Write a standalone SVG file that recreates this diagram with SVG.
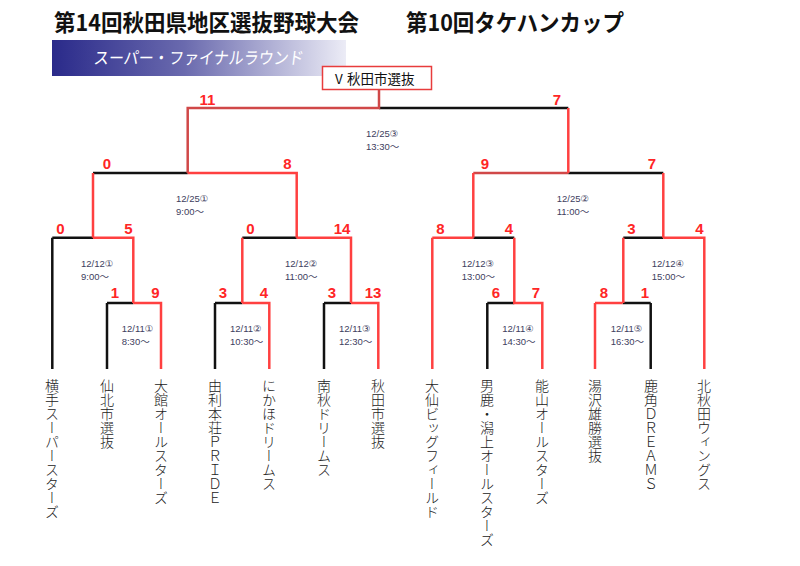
<svg xmlns="http://www.w3.org/2000/svg" width="800" height="566" viewBox="0 0 800 566">
<defs>
<linearGradient id="bn" x1="0" y1="0" x2="1" y2="0">
<stop offset="0" stop-color="#2a2a8a"/>
<stop offset="0.45" stop-color="#6a6aae"/>
<stop offset="1" stop-color="#ececf6"/>
</linearGradient>
<style>
.k{stroke:#111;stroke-width:2.5;fill:none}
.r{stroke:#ff4040;stroke-width:2.5;fill:none}
.rd{stroke:#d04848;stroke-width:2.5;fill:none}
.sc{font-family:"Liberation Sans",Arial,sans-serif;font-weight:bold;font-size:15px;fill:#ff2626;text-anchor:middle}
.dt{font-family:"Liberation Sans","DejaVu Sans","Noto Sans CJK JP",sans-serif;font-size:9.5px;fill:#40405e}
.tm{font-family:"Noto Sans CJK JP",sans-serif;font-size:14px;font-weight:300;fill:#222;writing-mode:vertical-rl}
.ti{font-family:"Noto Sans CJK JP",sans-serif;font-weight:bold;font-size:23px;fill:#111}
</style>
</defs>
<rect width="800" height="566" fill="#fff"/>
<g id="title">
<text class="ti" x="54" y="31" textLength="305" lengthAdjust="spacingAndGlyphs">第14回秋田県地区選抜野球大会</text>
<text class="ti" x="406" y="31" textLength="218" lengthAdjust="spacingAndGlyphs">第10回タケハンカップ</text>
</g>
<g id="banner">
<rect x="52" y="40" width="294" height="36" fill="url(#bn)"/>
<text x="93" y="64" textLength="210" lengthAdjust="spacingAndGlyphs" font-family="Noto Sans CJK JP,sans-serif" font-size="17" fill="#fff" transform="translate(8,0) skewX(-7) translate(0,0)">スーパー・ファイナルラウンド</text>
</g>
<g id="champion">
<rect x="322.5" y="66.5" width="109" height="23" fill="#fff" stroke="#e83c3c" stroke-width="1.5"/>
<text x="335" y="84" font-family="Noto Sans CJK JP,sans-serif" font-size="13.5" fill="#111">V</text>
<text x="347" y="84" font-family="Noto Sans CJK JP,sans-serif" font-size="13.5" fill="#111">秋田市選抜</text>
</g>
<g id="connectors">
<path class="k" d="M379,108H568.3 M93,173H187.7 M568.3,173H663.3 M52.3,237.7H93 M52.3,237.7V369 M107,303H133.3 M107,303V369 M242.3,237.7H296.7 M215,303H242.3 M215,303V369 M324,303H351 M324,303V369 M473.3,237.7H514.3 M487.3,303H514.3 M487.3,303V369 M623.3,237.7H663.3 M622.7,303H650.7 M650.7,303V369"/>
<path class="rd" d="M379,89V108H187.7V173 M473.3,173H568.3"/>
<path class="r" d="M568.3,108V173 M187.7,173H296.7V237.7 M93,173V237.7 M473.3,173V237.7 M663.3,173V237.7 M93,237.7H133.3V303 M133.3,303H161V369 M296.7,237.7H351V303 M242.3,237.7V303 M242.3,303H269.3V369 M351,303H378.3V369 M432.3,237.7H473.3 M432.3,237.7V369 M514.3,237.7V303H542.3V369 M663.3,237.7H704.3V369 M623.3,237.7V303 M595,303H622.7 M595,303V369"/>
</g>
<g id="scores">
<text class="sc" x="207.5" y="105">11</text>
<text class="sc" x="557" y="105">7</text>
<text class="sc" x="107" y="169">0</text>
<text class="sc" x="287.5" y="169">8</text>
<text class="sc" x="485" y="169">9</text>
<text class="sc" x="652" y="169">7</text>
<text class="sc" x="60.5" y="234">0</text>
<text class="sc" x="128.5" y="234">5</text>
<text class="sc" x="250.5" y="234">0</text>
<text class="sc" x="342" y="234">14</text>
<text class="sc" x="440.5" y="234">8</text>
<text class="sc" x="509" y="234">4</text>
<text class="sc" x="631.5" y="234">3</text>
<text class="sc" x="699.5" y="234">4</text>
<text class="sc" x="115" y="298">1</text>
<text class="sc" x="155.5" y="298">9</text>
<text class="sc" x="223" y="298">3</text>
<text class="sc" x="264" y="298">4</text>
<text class="sc" x="332" y="298">3</text>
<text class="sc" x="373" y="298">13</text>
<text class="sc" x="496" y="298">6</text>
<text class="sc" x="536" y="298">7</text>
<text class="sc" x="604" y="298">8</text>
<text class="sc" x="645" y="298">1</text>
</g>
<g id="dates">
<text class="dt" x="366" y="136.5">12/25③</text><text class="dt" x="366" y="150">13:30～</text>
<text class="dt" x="176" y="201.5">12/25①</text><text class="dt" x="176" y="215">9:00～</text>
<text class="dt" x="556.7" y="201.5">12/25②</text><text class="dt" x="556.7" y="215">11:00～</text>
<text class="dt" x="81" y="266.5">12/12①</text><text class="dt" x="81" y="280">9:00～</text>
<text class="dt" x="285" y="266.5">12/12②</text><text class="dt" x="285" y="280">11:00～</text>
<text class="dt" x="461.7" y="266.5">12/12③</text><text class="dt" x="461.7" y="280">13:00～</text>
<text class="dt" x="651.7" y="266.5">12/12④</text><text class="dt" x="651.7" y="280">15:00～</text>
<text class="dt" x="121.7" y="331.5">12/11①</text><text class="dt" x="121.7" y="345">8:30～</text>
<text class="dt" x="230" y="331.5">12/11②</text><text class="dt" x="230" y="345">10:30～</text>
<text class="dt" x="339" y="331.5">12/11③</text><text class="dt" x="339" y="345">12:30～</text>
<text class="dt" x="502.3" y="331.5">12/11④</text><text class="dt" x="502.3" y="345">14:30～</text>
<text class="dt" x="610.7" y="331.5">12/11⑤</text><text class="dt" x="610.7" y="345">16:30～</text>
</g>
<g id="team-yokote"><text class="tm" x="52" y="379">横手スーパースターズ</text></g>
<g id="team-senboku"><text class="tm" x="107" y="379">仙北市選抜</text></g>
<g id="team-odate"><text class="tm" x="161" y="379">大館オールスターズ</text></g>
<g id="team-yurihonjo"><text class="tm" x="215" y="379">由利本荘ＰＲＩＤＥ</text></g>
<g id="team-nikaho"><text class="tm" x="269" y="379">にかほドリームス</text></g>
<g id="team-minamiaki"><text class="tm" x="324" y="379">南秋ドリームス</text></g>
<g id="team-akitashi"><text class="tm" x="378" y="379">秋田市選抜</text></g>
<g id="team-daisen"><text class="tm" x="432" y="379">大仙ビッグフィールド</text></g>
<g id="team-oga"><text class="tm" x="487" y="379">男鹿・潟上オールスターズ</text></g>
<g id="team-nozan"><text class="tm" x="542" y="379">能山オールスターズ</text></g>
<g id="team-yuzawa"><text class="tm" x="595" y="379">湯沢雄勝選抜</text></g>
<g id="team-kazuno"><text class="tm" x="651" y="379">鹿角ＤＲＥＡＭＳ</text></g>
<g id="team-kitaakita"><text class="tm" x="704" y="379">北秋田ウィングス</text></g>
</svg>
